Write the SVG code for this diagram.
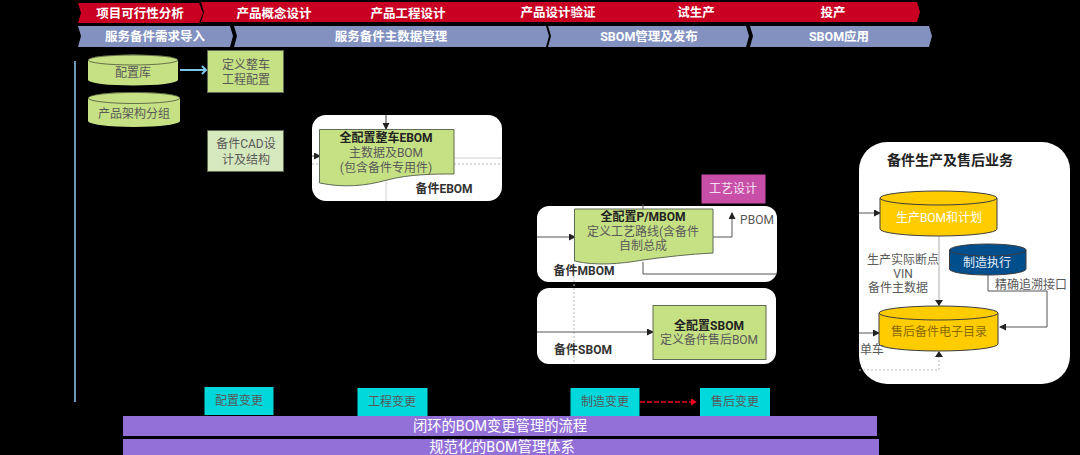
<svg xmlns="http://www.w3.org/2000/svg" width="1080" height="455" viewBox="0 0 1080 455">
<style>
text{font-family:Roboto,"Noto Sans CJK SC",sans-serif;text-anchor:middle;fill:#595959;font-size:12px}
.h{fill:#fff;font-weight:700;font-size:12.500px}
.b{fill:#222;font-weight:700}
.s{fill:#333;font-weight:700}
.g{fill:#c6e184;stroke:#5f6b55;stroke-width:1}
.gf{fill:#c6e184}
.w{fill:#fff}
.c{fill:#00d8dc}
.cyl{stroke:#3c3c3c;stroke-width:1}
.ln{fill:none;stroke:#555;stroke-width:1}
.lt{fill:none;stroke:#d0d0d0;stroke-width:1}
.dot{fill:none;stroke:#b8b8b8;stroke-width:1;stroke-dasharray:2 2}
.red{fill:#c90022}
.blue{fill:#8291c0}
.p{fill:#9370d8}
.t{fill:#fff;font-size:14.300px}
</style>
<defs>
<marker id="a" markerWidth="7" markerHeight="7" refX="6" refY="3.500" orient="auto" markerUnits="userSpaceOnUse"><path d="M0 0L7 3.500L0 7z" fill="#222"/></marker>
<marker id="r" markerWidth="6" markerHeight="7" refX="5" refY="3.500" orient="auto" markerUnits="userSpaceOnUse"><path d="M0 0L6 3.500L0 7z" fill="#f00020"/></marker>
</defs>
<rect width="1080" height="455" fill="#000"/>
<g id="phase-bar">
<path class="red" d="M78 3H199L203 13L199 23H78L81 13z"/>
<path class="red" d="M201 2H917L920 12L917 22H201L204 12z"/>
<text class="h" x="140" y="18">项目可行性分析</text>
<text class="h" x="274" y="18">产品概念设计</text>
<text class="h" x="408" y="18">产品工程设计</text>
<text class="h" x="558" y="17">产品设计验证</text>
<text class="h" x="696" y="17">试生产</text>
<text class="h" x="833" y="17">投产</text>
</g>
<g id="service-bar">
<path class="blue" d="M78 26H230L233 36L230 47H78L81 36z"/>
<path class="blue" d="M234 26H546L549 36L546 47H234L237 36z"/>
<path class="blue" d="M548 26H746L749 36L746 47H548L551 36z"/>
<path class="blue" d="M750 26H929L932 36L929 47H750L753 36z"/>
<text class="h" x="155" y="41">服务备件需求导入</text>
<text class="h" x="391" y="41">服务备件主数据管理</text>
<text class="h" x="649" y="41">SBOM管理及发布</text>
<text class="h" x="839" y="41">SBOM应用</text>
</g>
<g id="panels">
<rect class="w" x="312" y="115" width="190" height="86" rx="14"/>
<rect class="w" x="537" y="206" width="240" height="76" rx="12"/>
<rect class="w" x="537" y="288" width="239" height="76" rx="12"/>
<rect class="w" x="859" y="142" width="211" height="242" rx="28"/>
</g>
<g id="connectors">
<line x1="75" y1="61" x2="75" y2="402" stroke="#8fcdf0" stroke-width="1.500"/>
<path d="M180 70H206" fill="none" stroke="#7cc4ea" stroke-width="2"/>
<path d="M202 66L206 70L202 74" fill="none" stroke="#7cc4ea" stroke-width="2"/>
<path class="lt" d="M386 115V201M454 158H502"/>
<path class="dot" d="M312 164H320M454 164H502"/>
<path class="ln" d="M386 115V129" marker-end="url(#a)"/>
<path class="ln" d="M312 156H320" marker-end="url(#a)"/>
<path class="ln" d="M537 237H575" marker-end="url(#a)"/>
<path class="ln" d="M713 237H732V213" marker-end="url(#a)"/>
<path class="ln" d="M643 204V209M643 262V274H777"/>
<path class="dot" d="M574 264V364"/>
<path class="ln" d="M537 332H653" marker-end="url(#a)"/>
<path class="ln" d="M859 213H880" marker-end="url(#a)"/>
<path class="ln" d="M859 333H879" marker-end="url(#a)"/>
<path d="M939 236V306" fill="none" stroke="#c8c8c8" stroke-width="1.500"/>
<path d="M935 300H943L939 306z" fill="#222"/>
<path class="ln" d="M988 275V291H1047V327H1000" marker-end="url(#a)"/>
<path class="dot" d="M859 370H939V352"/>
<path d="M935 357H943L939 351z" fill="#222"/>
<path d="M640 402H696" fill="none" stroke="#f00020" stroke-width="1.600" stroke-dasharray="5 2" marker-end="url(#r)"/>
</g>
<g id="cfg-lib">
<path class="gf" d="M88 60A45 5.500 0 0 1 178 60V80A45 5.500 0 0 1 88 80z"/>
<ellipse cx="133" cy="60" rx="45" ry="5" fill="#c6e184" stroke="#222" stroke-width=".6"/>
<text x="133" y="77">配置库</text>
</g>
<g id="arch-group">
<path class="gf" d="M88 98A46 6 0 0 1 180 98V121A46 6 0 0 1 88 121z"/>
<ellipse cx="134" cy="98" rx="46" ry="5.500" fill="#c6e184" stroke="#222" stroke-width=".6"/>
<text x="134" y="118">产品架构分组</text>
</g>
<g id="vehicle-config">
<rect class="g" x="207.500" y="50.500" width="76" height="42"/>
<text x="246" y="69">定义整车</text><text x="246" y="84">工程配置</text>
</g>
<g id="cad">
<rect x="207.500" y="130.500" width="76" height="41" fill="#d6e8bd" stroke="#5f6b55"/>
<text x="246" y="148">备件CAD设</text><text x="246" y="164">计及结构</text>
</g>
<g id="ebom">
<path class="g" d="M319.500 129.500H454V174C435 174 410 174 387 180C365 186 345 188 319.500 183z"/>
<text class="b" x="386" y="142">全配置整车EBOM</text>
<text x="386" y="157">主数据及BOM</text>
<text x="386" y="172">(包含备件专用件)</text>
<text class="s" x="444" y="193">备件EBOM</text>
</g>
<g id="process">
<rect x="701.500" y="174.500" width="64" height="29" fill="#c84fa8"/>
<text x="733" y="193" style="fill:#f4e0f0">工艺设计</text>
</g>
<g id="mbom">
<path class="g" d="M574.500 209H713V253C690 254 665 257 643 260C620 264 595 266 574.500 261z"/>
<text class="b" x="643" y="221">全配置P/MBOM</text>
<text x="643" y="236">定义工艺路线(含备件</text>
<text x="643" y="250">自制总成</text>
<text class="s" x="584" y="275">备件MBOM</text>
<text x="757" y="224">PBOM</text>
</g>
<g id="sbom">
<rect class="g" x="653" y="305.500" width="113" height="54"/>
<text class="b" x="709" y="330">全配置SBOM</text>
<text x="709" y="344">定义备件售后BOM</text>
<text class="s" x="583" y="354">备件SBOM</text>
</g>
<g id="service-title">
<text x="950" y="165" style="fill:#222;font-weight:700;font-size:14px">备件生产及售后业务</text>
</g>
<g id="prod-bom">
<path class="cyl" fill="#ffcc00" d="M880 198V229A58.500 7 0 0 0 997 229V198"/>
<ellipse class="cyl" cx="938.500" cy="198" rx="58.500" ry="7" fill="#ffcc00"/>
<text x="939" y="222" style="fill:#fff">生产BOM和计划</text>
</g>
<g id="mes">
<path fill="#004e8c" class="cyl" d="M949.500 250V269A38.250 6 0 0 0 1026 269V250"/>
<ellipse class="cyl" cx="987.750" cy="250" rx="38.250" ry="6" fill="#004e8c"/>
<text x="987" y="267" style="fill:#e8eef5">制造执行</text>
</g>
<g id="catalog">
<path class="cyl" fill="#ffcc00" d="M879 313V344A59.500 7 0 0 0 998 344V313"/>
<ellipse class="cyl" cx="938.500" cy="313" rx="59.500" ry="7" fill="#ffcc00"/>
<text x="939" y="336" style="fill:#8a6a00">售后备件电子目录</text>
</g>
<g id="labels">
<text x="903" y="264">生产实际断点</text>
<text x="903" y="278">VIN</text>
<text x="898" y="292">备件主数据</text>
<text x="1031" y="289">精确追溯接口</text>
<text x="872" y="354">单车</text>
</g>
<g id="change-cfg"><rect class="c" x="204.500" y="387" width="69" height="28"/><text x="239" y="405">配置变更</text></g>
<g id="change-eng"><rect class="c" x="357.500" y="388" width="70" height="28"/><text x="392" y="406">工程变更</text></g>
<g id="change-mfg"><rect class="c" x="570.500" y="388" width="69" height="28"/><text x="605" y="406">制造变更</text></g>
<g id="change-svc"><rect class="c" x="700" y="388" width="70" height="28"/><text x="735" y="406">售后变更</text></g>
<g id="process-band"><rect class="p" x="123" y="416" width="754" height="20"/><text class="t" x="500" y="431">闭环的BOM变更管理的流程</text></g>
<g id="system-band"><rect class="p" x="123" y="439" width="756" height="16"/><text class="t" x="502" y="452">规范化的BOM管理体系</text></g>
</svg>
